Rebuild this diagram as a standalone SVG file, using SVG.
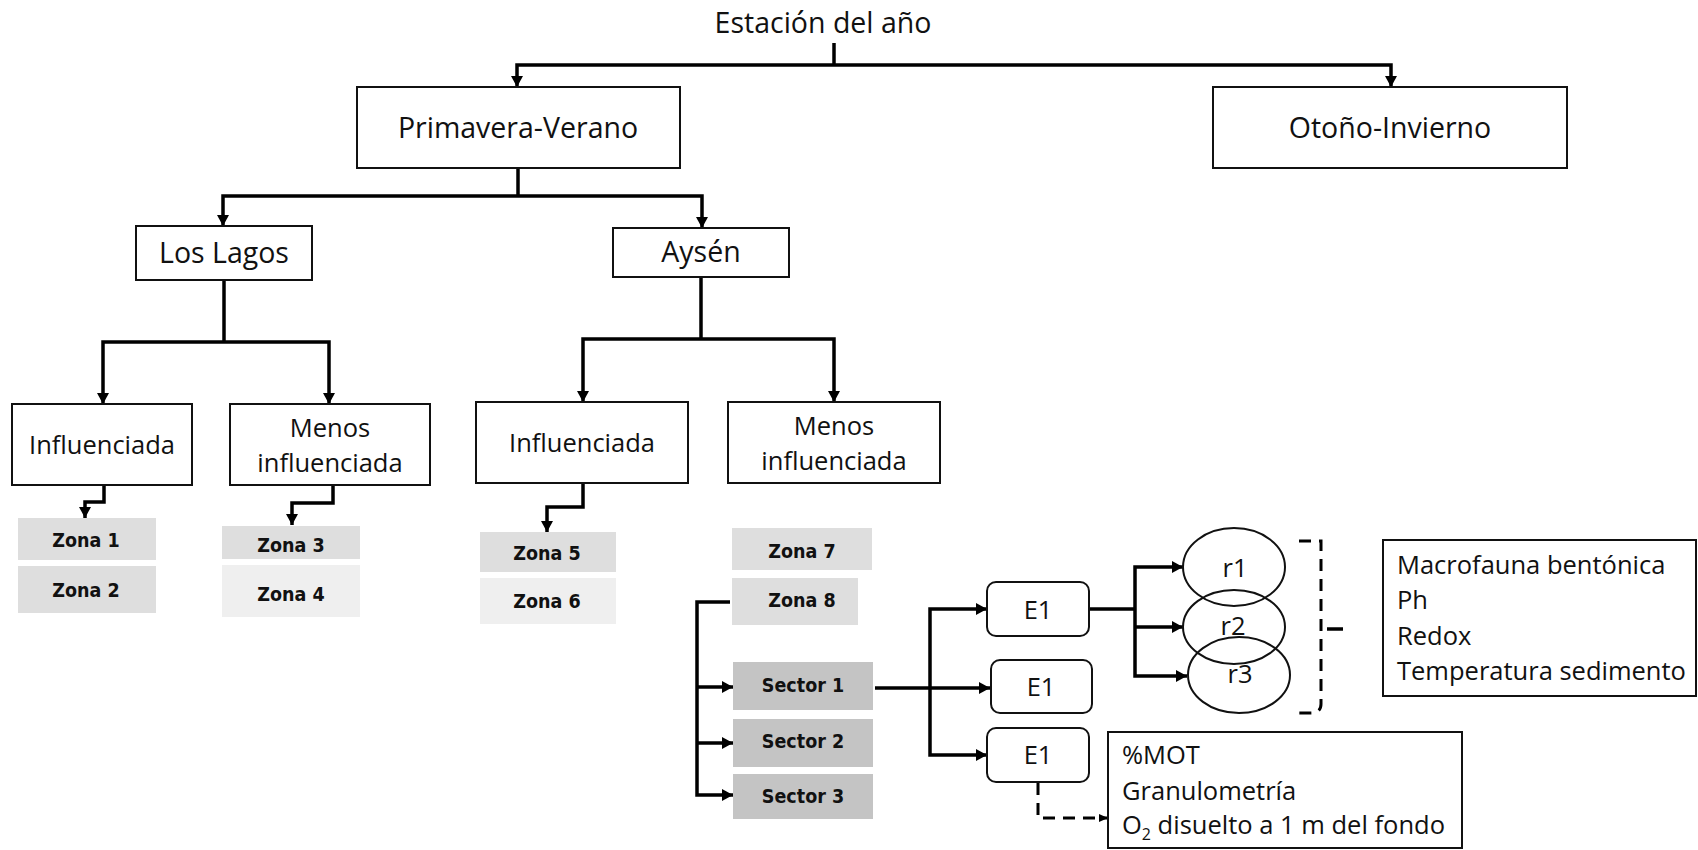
<svg xmlns="http://www.w3.org/2000/svg" width="1698" height="850" viewBox="0 0 1698 850">
<style>
.t{font-family:"Open Sans","Noto Sans",sans-serif;fill:#111}
.big{font-size:28.5px}
.mid{font-size:25.5px}
.c{text-anchor:middle}
.z{font-family:"DejaVu Sans Condensed","DejaVu Sans",sans-serif;font-weight:bold;font-size:19.5px;fill:#111;text-anchor:middle}
.box{fill:#fff;stroke:#111;stroke-width:2}
.ell{fill:none;stroke:#111;stroke-width:2}
.con{fill:none;stroke:#000;stroke-width:3.5}
.dash{fill:none;stroke:#000;stroke-width:3;stroke-dasharray:12 8}
.zl{fill:#dedede}
.zll{fill:#efefef}
.sec{fill:#c4c4c4}
</style>
<defs>
<marker id="ah" markerUnits="userSpaceOnUse" markerWidth="12" markerHeight="12" refX="11" refY="6" orient="auto">
<path d="M0,0 L11,6 L0,12 z" fill="#000"/>
</marker>
<marker id="ahs" markerUnits="userSpaceOnUse" markerWidth="10" markerHeight="10" refX="9" refY="5" orient="auto">
<path d="M0,1 L9,5 L0,9 z" fill="#000"/>
</marker>
</defs>
<rect width="1698" height="850" fill="#fff"/>

<g id="connectors">
<path class="con" d="M834,43 V65"/>
<path class="con" d="M834,65 H517 V87" marker-end="url(#ah)"/>
<path class="con" d="M834,65 H1391 V87" marker-end="url(#ah)"/>
<path class="con" d="M518,168 V196"/>
<path class="con" d="M518,196 H223 V226" marker-end="url(#ah)"/>
<path class="con" d="M518,196 H702 V228" marker-end="url(#ah)"/>
<path class="con" d="M224,280 V342"/>
<path class="con" d="M224,342 H103 V404" marker-end="url(#ah)"/>
<path class="con" d="M224,342 H329 V404" marker-end="url(#ah)"/>
<path class="con" d="M701,277 V339"/>
<path class="con" d="M701,339 H583 V402" marker-end="url(#ah)"/>
<path class="con" d="M701,339 H834 V402" marker-end="url(#ah)"/>
<path class="con" d="M104,485 V502 H85 V518" marker-end="url(#ah)"/>
<path class="con" d="M333,485 V503 H292 V525" marker-end="url(#ah)"/>
<path class="con" d="M583,483 V507 H547 V532" marker-end="url(#ah)"/>
<path class="con" d="M730,602 H697 V795 H733" marker-end="url(#ah)"/>
<path class="con" d="M697,687 H733" marker-end="url(#ah)"/>
<path class="con" d="M697,743 H733" marker-end="url(#ah)"/>
<path class="con" d="M875,688 H930"/>
<path class="con" d="M930,688 V609 H987" marker-end="url(#ah)"/>
<path class="con" d="M930,688 H990" marker-end="url(#ah)"/>
<path class="con" d="M930,688 V755 H987" marker-end="url(#ah)"/>
<path class="con" d="M1089,609 H1135"/>
<path class="con" d="M1135,609 V567 H1183" marker-end="url(#ah)"/>
<path class="con" d="M1135,627 H1183" marker-end="url(#ah)"/>
<path class="con" d="M1135,609 V676 H1187" marker-end="url(#ah)"/>
<path class="dash" d="M1038,783 V818 H1108" stroke-width="2.5" marker-end="url(#ahs)"/>
<path class="dash" d="M1299,541 H1321 V704 Q1321,713 1311,713 H1299"/>
<path class="con" d="M1327,629 H1343" stroke-width="3"/>
</g>

<g id="n-estacion"><text class="t big c" x="823" y="33">Estación del año</text></g>
<g id="n-primavera"><rect class="box" x="357" y="87" width="323" height="81"/><text class="t big c" x="518" y="138">Primavera-Verano</text></g>
<g id="n-otono"><rect class="box" x="1213" y="87" width="354" height="81"/><text class="t big c" x="1390" y="138">Otoño-Invierno</text></g>
<g id="n-loslagos"><rect class="box" x="136" y="226" width="176" height="54"/><text class="t big c" x="224" y="263">Los Lagos</text></g>
<g id="n-aysen"><rect class="box" x="613" y="228" width="176" height="49"/><text class="t big c" x="701" y="262">Aysén</text></g>
<g id="n-infl-ll"><rect class="box" x="12" y="404" width="180" height="81"/><text class="t mid c" x="102" y="454">Influenciada</text></g>
<g id="n-menos-ll"><rect class="box" x="230" y="404" width="200" height="81"/><text class="t mid c" x="330" y="437">Menos</text><text class="t mid c" x="330" y="472">influenciada</text></g>
<g id="n-infl-ay"><rect class="box" x="476" y="402" width="212" height="81"/><text class="t mid c" x="582" y="452">Influenciada</text></g>
<g id="n-menos-ay"><rect class="box" x="728" y="402" width="212" height="81"/><text class="t mid c" x="834" y="435">Menos</text><text class="t mid c" x="834" y="470">influenciada</text></g>

<g id="n-zona1"><rect class="zl" x="18" y="518" width="138" height="42"/><text class="z" x="86" y="547">Zona 1</text></g>
<g id="n-zona2"><rect class="zl" x="18" y="566" width="138" height="47"/><text class="z" x="86" y="597">Zona 2</text></g>
<g id="n-zona3"><rect class="zl" x="222" y="526" width="138" height="33"/><text class="z" x="291" y="552">Zona 3</text></g>
<g id="n-zona4"><rect class="zll" x="222" y="565" width="138" height="52"/><text class="z" x="291" y="601">Zona 4</text></g>
<g id="n-zona5"><rect class="zl" x="480" y="532" width="136" height="40"/><text class="z" x="547" y="560">Zona 5</text></g>
<g id="n-zona6"><rect class="zll" x="480" y="578" width="136" height="46"/><text class="z" x="547" y="608">Zona 6</text></g>
<g id="n-zona7"><rect class="zl" x="732" y="528" width="140" height="42"/><text class="z" x="802" y="558">Zona 7</text></g>
<g id="n-zona8"><rect class="zl" x="732" y="578" width="126" height="47"/><text class="z" x="802" y="607">Zona 8</text></g>
<g id="n-sector1"><rect class="sec" x="733" y="662" width="140" height="48"/><text class="z" x="803" y="692">Sector 1</text></g>
<g id="n-sector2"><rect class="sec" x="733" y="719" width="140" height="48"/><text class="z" x="803" y="748">Sector 2</text></g>
<g id="n-sector3"><rect class="sec" x="733" y="774" width="140" height="45"/><text class="z" x="803" y="803">Sector 3</text></g>

<g id="n-e1a"><rect class="box" x="987" y="582" width="102" height="54" rx="9"/><text class="t mid c" x="1038" y="619">E1</text></g>
<g id="n-e1b"><rect class="box" x="991" y="660" width="101" height="53" rx="9"/><text class="t mid c" x="1041" y="696">E1</text></g>
<g id="n-e1c"><rect class="box" x="987" y="728" width="102" height="54" rx="9"/><text class="t mid c" x="1038" y="764">E1</text></g>

<g id="n-r1"><ellipse class="ell" cx="1234" cy="567" rx="51" ry="39"/><text class="t mid c" x="1235" y="577">r1</text></g>
<g id="n-r2"><ellipse class="ell" cx="1234" cy="627" rx="51" ry="37"/><text class="t mid c" x="1233" y="635">r2</text></g>
<g id="n-r3"><ellipse class="ell" cx="1239" cy="675" rx="51" ry="38"/><text class="t mid c" x="1240" y="683">r3</text></g>

<g id="n-macro"><rect class="box" x="1383" y="540" width="313" height="156" stroke-width="1.5"/>
<text class="t mid" x="1397" y="574">Macrofauna bentónica</text>
<text class="t mid" x="1397" y="609">Ph</text>
<text class="t mid" x="1397" y="645">Redox</text>
<text class="t mid" x="1397" y="680">Temperatura sedimento</text></g>

<g id="n-mot"><rect class="box" x="1108" y="732" width="354" height="116" stroke-width="1.5"/>
<text class="t mid" x="1122" y="764">%MOT</text>
<text class="t mid" x="1122" y="800">Granulometría</text>
<text class="t mid" x="1122" y="834">O<tspan font-size="16" dy="6">2</tspan><tspan dy="-6"> disuelto a 1 m del fondo</tspan></text></g>
</svg>
